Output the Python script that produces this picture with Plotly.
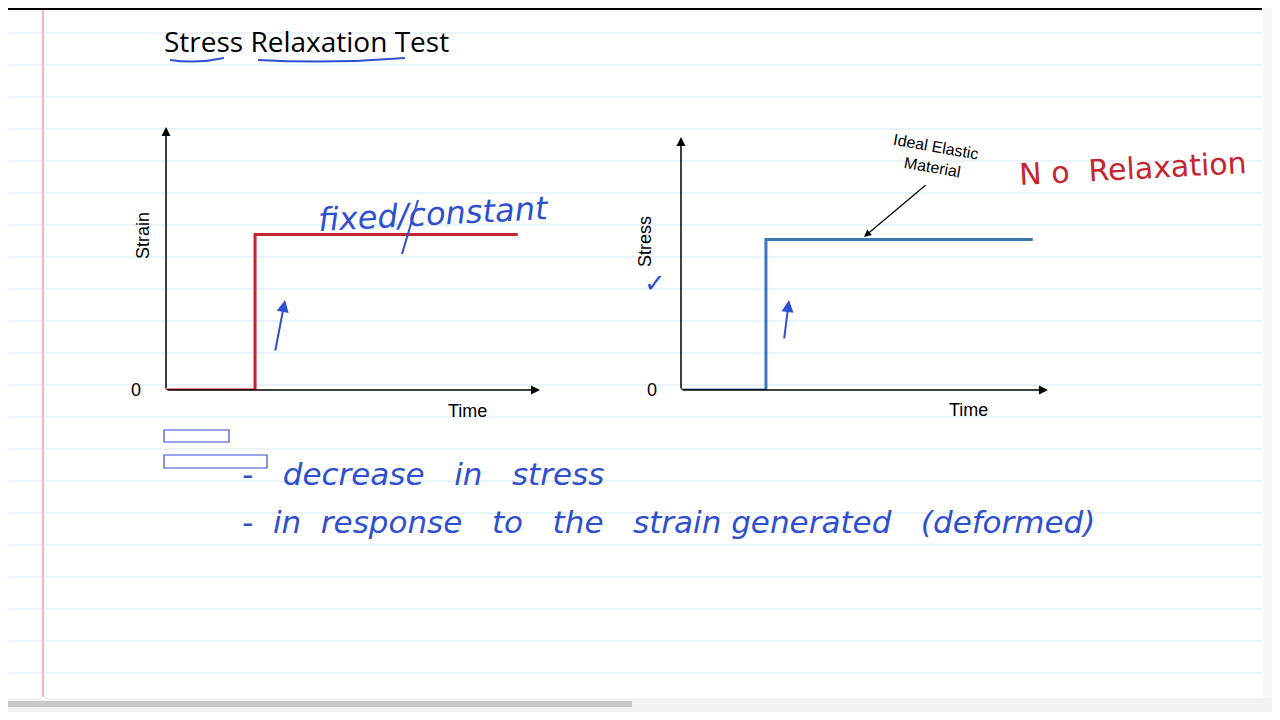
import plotly.graph_objects as go

# data
time_left = [0, 1, 1, 3.95]
strain = [0, 0, 1, 1]
time_right = [0, 1, 1, 4.14]
stress = [0, 0, 1, 1]

OFF = 8
W, H = 1264, 704
def px(x): return (x - OFF) / W
def py(y): return 1 - (y - OFF) / H

fig = go.Figure()
fig.add_trace(go.Scatter(x=time_left, y=strain, mode="lines", line=dict(color="#c4262e", width=3), xaxis="x", yaxis="y", showlegend=False))
fig.add_trace(go.Scatter(x=time_right, y=stress, mode="lines", line=dict(color="#3b78b0", width=3), xaxis="x2", yaxis="y2", showlegend=False))

ax = dict(visible=False, fixedrange=True)
fig.update_layout(
    width=W, height=H, margin=dict(l=0, r=0, t=0, b=0),
    paper_bgcolor="white", plot_bgcolor="rgba(0,0,0,0)",
    xaxis=dict(ax, domain=[px(166), px(540)], range=[0, 4.2]),
    yaxis=dict(ax, domain=[py(390), py(127)], range=[0, 1.69]),
    xaxis2=dict(ax, domain=[px(681), px(1048)], range=[0, 4.32]),
    yaxis2=dict(ax, domain=[py(390), py(137)], range=[0, 1.68]),
    font=dict(family="Liberation Sans", color="black"),
)

shapes = []
for y in range(33, 700, 32):
    shapes.append(dict(type="line", xref="paper", yref="paper", x0=0, x1=px(1265), y0=py(y), y1=py(y), line=dict(color="#d6e4ef", width=1), layer="below"))
shapes.append(dict(type="line", xref="paper", yref="paper", x0=px(43), x1=px(43), y0=py(8), y1=py(697), line=dict(color="#f0a0a0", width=1.5), layer="below"))
shapes.append(dict(type="rect", xref="paper", yref="paper", x0=0, x1=1, y0=py(8), y1=py(10), fillcolor="black", line=dict(width=0)))
shapes.append(dict(type="rect", xref="paper", yref="paper", x0=0, x1=1, y0=py(698), y1=py(712), fillcolor="#f2f2f2", line=dict(width=0)))
shapes.append(dict(type="rect", xref="paper", yref="paper", x0=0, x1=px(632), y0=py(701), y1=py(707), fillcolor="#c8c8c8", line=dict(width=0)))
shapes.append(dict(type="rect", xref="paper", yref="paper", x0=px(1262), x1=1, y0=py(8), y1=py(698), fillcolor="#f7f7f7", line=dict(width=0)))
for x0, x1, y0, y1 in [(164, 229, 430, 442), (164, 267, 455, 468)]:
    shapes.append(dict(type="rect", xref="paper", yref="paper", x0=px(x0), x1=px(x1), y0=py(y0), y1=py(y1), line=dict(color="#3050d0", width=1.2)))
blue = "#2e4fd0"
for x0, x1 in [(170, 224), (258, 405)]:
    shapes.append(dict(type="path", xref="paper", yref="paper",
        path=f"M {px(x0)},{py(60)} Q {px((x0+x1)/2)},{py(64)} {px(x1)},{py(58)}", line=dict(color=blue, width=2)))
shapes.append(dict(type="line", xref="paper", yref="paper", x0=px(418), x1=px(402), y0=py(200), y1=py(254), line=dict(color=blue, width=2)))
fig.update_layout(shapes=shapes)

ann = []
def arrow(xr, yr, x0, y0, x1, y1, color="black", w=1.5):
    ann.append(dict(xref=xr, yref=yr, axref=xr, ayref=yr, x=x1, y=y1, ax=x0, ay=y0, text="", showarrow=True, arrowhead=2, arrowsize=1.2, arrowwidth=w, arrowcolor=color))
def parrow(x0, y0, x1, y1, color="black", w=1.5):
    ann.append(dict(xref="paper", yref="paper", axref="pixel", ayref="pixel", x=px(x1), y=py(y1), ax=x0 - x1, ay=y0 - y1, text="", showarrow=True, arrowhead=2, arrowsize=1.2, arrowwidth=w, arrowcolor=color))

arrow("x", "y", 0, 0, 4.2, 0); arrow("x", "y", 0, 0, 0, 1.69)
arrow("x2", "y2", 0, 0, 4.32, 0); arrow("x2", "y2", 0, 0, 0, 1.68)
def text(x, y, t, size=18, color="black", angle=0, family="Liberation Sans", xanchor="center", **kw):
    ann.append(dict(xref="paper", yref="paper", x=px(x), y=py(y), text=t, showarrow=False, xanchor=xanchor, yanchor="middle", font=dict(size=size, color=color, family=family), textangle=angle, **kw))
text(136, 390, "0"); text(652, 390, "0")
text(467, 411, "Time"); text(968, 410, "Time")
text(143, 236, "Strain", angle=-90); text(645, 242, "Stress", angle=-90)
text(162, 41, "Stress Relaxation Test", size=28, family="Open Sans", xanchor="left")
text(934, 157, "Ideal Elastic<br>Material", size=16, angle=10)
parrow(927, 184, 864, 237, w=1.2)
hand = "DejaVu Sans"
text(433, 214, "<i>fixed/constant</i>", size=32, color=blue, family=hand, angle=-3)
text(1133, 168, "N o  Relaxation", size=30, color="#c4262e", family=hand, angle=-3)
text(240, 474, "<i>-   decrease   in   stress</i>", size=31, color=blue, family=hand, xanchor="left")
text(240, 522, "<i>-  in  response   to   the   strain generated   (deformed)</i>", size=31, color=blue, family=hand, xanchor="left")
text(655, 283, "✓", size=26, color=blue)
parrow(275, 352, 285, 300, color=blue, w=2)
parrow(784, 340, 789, 300, color=blue, w=2)
fig.update_layout(annotations=ann)

fig.write_html("out.html")
